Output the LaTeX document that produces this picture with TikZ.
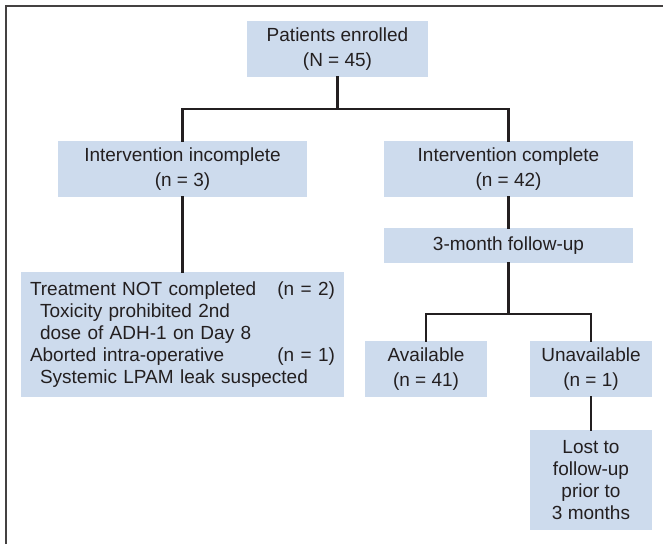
\documentclass[tikz,border=0pt]{standalone}
\usepackage{fontspec}
\setmainfont{Liberation Sans}
\definecolor{boxfill}{RGB}{205,219,237}
\definecolor{ink}{RGB}{35,31,32}
\begin{document}
\begin{tikzpicture}[x=1pt,y=-1pt,
  box/.style={fill=boxfill,draw=none,inner sep=0pt,text=ink,align=center,
    font=\fontsize{19}{22}\selectfont},
  conn/.style={draw=ink,line width=2.6pt,line join=miter,line cap=rect}]
\useasboundingbox (0,0) rectangle (663,544);
\draw[draw=ink!85,line width=2pt] (6,544) -- (6,6) -- (663,6);
\node[box,minimum width=181pt,minimum height=56pt] (pat) at (337.5,49) {Patients enrolled\\[3pt](N = 45)};
\node[box,minimum width=249pt,minimum height=56pt] (inc) at (182.5,169) {Intervention incomplete\\[3pt](n = 3)};
\node[box,minimum width=249pt,minimum height=56pt] (com) at (508.5,169) {Intervention complete\\[3pt](n = 42)};
\node[box,minimum width=249pt,minimum height=35pt] (fu) at (508.5,245.5) {3-month follow-up};
\node[box,minimum width=323pt,minimum height=125pt,text width=305pt,align=left] (trt) at (182.5,334.5)
 {Treatment NOT completed\hfill(n = 2)\\
  \hspace*{10pt}Toxicity prohibited 2nd\\
  \hspace*{10pt}dose of ADH-1 on Day 8\\
  Aborted intra-operative\hfill(n = 1)\\
  \hspace*{10pt}Systemic LPAM leak suspected};
\node[box,minimum width=122pt,minimum height=56pt] (ava) at (426,369) {Available\\[3pt](n = 41)};
\node[box,minimum width=122pt,minimum height=56pt] (una) at (591,369) {Unavailable\\[3pt](n = 1)};
\node[box,minimum width=122pt,minimum height=100pt] (lost) at (591,480) {Lost to\\follow-up\\prior to\\3 months};
\coordinate (j1) at (337.5,109);
\coordinate (j2) at (508.5,314);
\draw[conn] (pat.south) -- (j1);
\draw[conn] (inc.north) |- (j1) -| (com.north);
\draw[conn] (inc.south) -- (trt.north);
\draw[conn] (com.south) -- (fu.north);
\draw[conn] (fu.south) -- (j2);
\draw[conn] (ava.north) |- (j2) -| (una.north);
\draw[conn] (una.south) -- (lost.north);
\end{tikzpicture}
\end{document}
